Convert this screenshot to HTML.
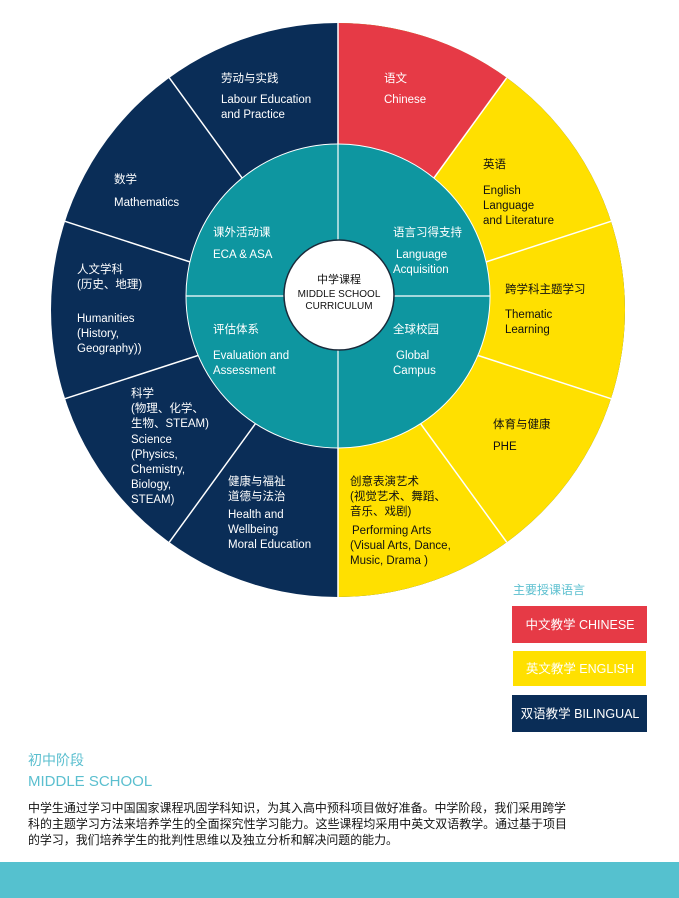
<!DOCTYPE html>
<html><head><meta charset="utf-8"><style>
html,body{margin:0;padding:0;background:#fff;width:679px;height:898px;overflow:hidden}
svg text{font-family:"Liberation Sans","Noto Sans CJK SC",sans-serif}
</style></head><body>
<svg width="679" height="898" viewBox="0 0 679 898" xmlns="http://www.w3.org/2000/svg">
<circle cx="338" cy="310" r="287" fill="#0a2d57"/>
<path d="M338,310 L338,23 A287,287 0 0 1 338,597 Z" fill="#ffe000"/>
<path d="M338,310 L338,23 A287,287 0 0 1 506.7,77.8 Z" fill="#e63a46"/>
<g stroke="#fff" stroke-width="1.5">
<line x1="338" y1="310" x2="338" y2="23"/>
<line x1="338" y1="310" x2="506.7" y2="77.8"/>
<line x1="338" y1="310" x2="611" y2="221.3"/>
<line x1="338" y1="310" x2="611" y2="398.7"/>
<line x1="338" y1="310" x2="506.7" y2="542.2"/>
<line x1="338" y1="310" x2="338" y2="597"/>
<line x1="338" y1="310" x2="169.3" y2="542.2"/>
<line x1="338" y1="310" x2="65" y2="398.7"/>
<line x1="338" y1="310" x2="65" y2="221.3"/>
<line x1="338" y1="310" x2="169.3" y2="77.8"/>
</g>
<circle cx="338" cy="296" r="152" fill="#0e96a0" stroke="#fff" stroke-width="1"/>
<line x1="338" y1="144" x2="338" y2="448" stroke="#fff" stroke-width="1.2"/>
<line x1="186" y1="296" x2="490" y2="296" stroke="#fff" stroke-width="1.2"/>
<circle cx="339" cy="295" r="55" fill="#fff" stroke="#1a2a3a" stroke-width="1.5"/>
<g font-size="10" fill="#111" text-anchor="middle">
<text x="339" y="283" font-size="11">中学课程</text>
<text x="339" y="297">MIDDLE SCHOOL</text>
<text x="339" y="309">CURRICULUM</text>
</g>
<g font-size="11.5" fill="#fff">
<text x="221" y="82">劳动与实践</text><text x="221" y="103">Labour Education</text><text x="221" y="118">and Practice</text>
<text x="384" y="82">语文</text><text x="384" y="103">Chinese</text>
<text x="114" y="183">数学</text><text x="114" y="206">Mathematics</text>
<text x="77" y="273">人文学科</text><text x="77" y="288">(历史、地理)</text><text x="77" y="322">Humanities</text><text x="77" y="337">(History,</text><text x="77" y="352">Geography))</text>
<text x="131" y="397">科学</text><text x="131" y="412">(物理、化学、</text><text x="131" y="427">生物、STEAM)</text><text x="131" y="443">Science</text><text x="131" y="458">(Physics,</text><text x="131" y="473">Chemistry,</text><text x="131" y="488">Biology,</text><text x="131" y="503">STEAM)</text>
<text x="228" y="485">健康与福祉</text><text x="228" y="500">道德与法治</text><text x="228" y="518">Health and</text><text x="228" y="533">Wellbeing</text><text x="228" y="548">Moral Education</text>
<text x="213" y="236">课外活动课</text><text x="213" y="258">ECA &amp; ASA</text>
<text x="393" y="236">语言习得支持</text><text x="396" y="258">Language</text><text x="393" y="273">Acquisition</text>
<text x="213" y="333">评估体系</text><text x="213" y="359">Evaluation and</text><text x="213" y="374">Assessment</text>
<text x="393" y="333">全球校园</text><text x="396" y="359">Global</text><text x="393" y="374">Campus</text>
</g>
<g font-size="11.5" fill="#111">
<text x="483" y="168">英语</text><text x="483" y="194">English</text><text x="483" y="209">Language</text><text x="483" y="224">and Literature</text>
<text x="505" y="293">跨学科主题学习</text><text x="505" y="318">Thematic</text><text x="505" y="333">Learning</text>
<text x="493" y="428">体育与健康</text><text x="493" y="450">PHE</text>
<text x="350" y="485">创意表演艺术</text><text x="350" y="500">(视觉艺术、舞蹈、</text><text x="350" y="515">音乐、戏剧)</text><text x="352" y="534">Performing Arts</text><text x="350" y="549">(Visual Arts, Dance,</text><text x="350" y="564">Music, Drama )</text>
</g>
<text x="513" y="594" font-size="12" fill="#5bbfcf">主要授课语言</text>
<rect x="512" y="606" width="135" height="37" fill="#e63a46"/>
<rect x="513" y="651" width="133" height="35" fill="#ffe000"/>
<rect x="512" y="695" width="135" height="37" fill="#0a2d57"/>
<g font-size="12.5" fill="#fff" text-anchor="middle">
<text x="580" y="629">中文教学 CHINESE</text>
<text x="580" y="673">英文教学 ENGLISH</text>
<text x="580" y="718">双语教学 BILINGUAL</text>
</g>
<text x="28" y="765" font-size="14" fill="#5bbfcf">初中阶段</text>
<text x="28" y="786" font-size="15" fill="#5bbfcf">MIDDLE SCHOOL</text>
<g font-size="11.8" fill="#111">
<text x="28" y="812" textLength="538" lengthAdjust="spacingAndGlyphs">中学生通过学习中国国家课程巩固学科知识，为其入高中预科项目做好准备。中学阶段，我们采用跨学</text>
<text x="28" y="828" textLength="539" lengthAdjust="spacingAndGlyphs">科的主题学习方法来培养学生的全面探究性学习能力。这些课程均采用中英文双语教学。通过基于项目</text>
<text x="28" y="844" textLength="370" lengthAdjust="spacingAndGlyphs">的学习，我们培养学生的批判性思维以及独立分析和解决问题的能力。</text>
</g>
<rect x="0" y="862" width="679" height="36" fill="#55c1cf"/>
</svg>
</body></html>
